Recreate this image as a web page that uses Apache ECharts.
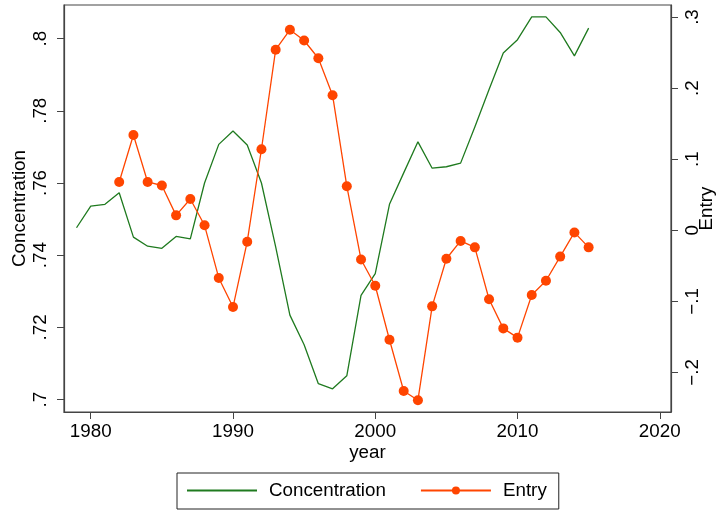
<!DOCTYPE html>
<html><head><meta charset="utf-8">
<script src="https://cdn.jsdelivr.net/npm/echarts@6/dist/echarts.min.js"></script>
<style>html,body{margin:0;padding:0;background:#fff}#c{width:719px;height:510px}</style>
</head><body><div id="c"></div>
<script>
var concYears = [1979,1980,1981,1982,1983,1984,1985,1986,1987,1988,1989,1990,1991,1992,1993,1994,1995,1996,1997,1998,1999,2000,2001,2002,2003,2004,2005,2006,2007,2008,2009,2010,2011,2012,2013,2014,2015];
var concentration = [0.7476,0.7536,0.7541,0.7573,0.7450,0.7425,0.7419,0.7452,0.7445,0.7600,0.7707,0.7744,0.7705,0.7600,0.7423,0.7234,0.7152,0.7044,0.7030,0.7066,0.7289,0.7349,0.7541,0.7628,0.7714,0.7641,0.7645,0.7655,0.7755,0.7859,0.7960,0.7997,0.8060,0.8060,0.8017,0.7952,0.8029];
var entryYears = [1982,1983,1984,1985,1986,1987,1988,1989,1990,1991,1992,1993,1994,1995,1996,1997,1998,1999,2000,2001,2002,2003,2004,2005,2006,2007,2008,2009,2010,2011,2012,2013,2014,2015];
var entry = [0.068,0.134,0.068,0.063,0.021,0.044,0.007,-0.067,-0.108,-0.016,0.114,0.254,0.282,0.267,0.242,0.190,0.062,-0.041,-0.078,-0.154,-0.226,-0.239,-0.107,-0.040,-0.015,-0.024,-0.097,-0.138,-0.151,-0.091,-0.071,-0.037,-0.003,-0.024];
var xTicks = [1980,1990,2000,2010,2020];
var leftTicks = [0.7,0.72,0.74,0.76,0.78,0.8];
var leftTickLabels = ['.7','.72','.74','.76','.78','.8'];
var rightTicks = [-0.2,-0.1,0,0.1,0.2,0.3];
var rightTickLabels = ['\u2212.2','\u2212.1','0','.1','.2','.3'];

function pairs(xs, ys){ return xs.map(function(x,i){ return [x, ys[i]]; }); }
function labelFor(ticks, labels){ return function(v){ for (var i=0;i<ticks.length;i++){ if (Math.abs(ticks[i]-v)<1e-6) return labels[i]; } return ''; }; }

var FONT = 'Liberation Sans';
var FS = 18.8;
var lineAxis = {show:true, onZero:false, lineStyle:{color:'#444', width:1.2}};
var chart = echarts.init(document.getElementById('c'), null, {renderer:'canvas'});
chart.setOption({
  animation:false,
  backgroundColor:'#fff',
  textStyle:{fontFamily:FONT},
  grid:{left:64, right:48, top:5, bottom:98, show:true, borderColor:'#444', borderWidth:1.2, containLabel:false, outerBoundsMode:'none'},
  legend:{
    left:177, top:473, orient:'horizontal',
    borderColor:'#222', borderWidth:1, padding:[8,12,9,9],
    itemWidth:70, itemHeight:10, itemGap:34,
    textStyle:{fontFamily:FONT, fontSize:FS, color:'#000', padding:[0,0,0,7]},
    data:[{name:'Concentration', itemStyle:{opacity:0}}, 'Entry']
  },
  xAxis:{
    type:'value', min:1978.12, max:2020.79,
    name:'year', nameLocation:'middle', nameGap:31, nameMoveOverlap:false,
    nameTextStyle:{fontFamily:FONT, fontSize:FS, color:'#000'},
    axisLine:lineAxis, splitLine:{show:false},
    axisTick:{show:true, inside:false, length:7, lineStyle:{color:'#444'}, customValues:xTicks},
    axisLabel:{fontFamily:FONT, fontSize:FS, color:'#000', margin:10, customValues:xTicks, formatter:function(v){return String(v);}}
  },
  yAxis:[
    {
      type:'value', position:'left', min:0.69657, max:0.8093,
      name:'Concentration', nameLocation:'middle', nameRotate:90, nameGap:35, nameMoveOverlap:false,
      nameTextStyle:{fontFamily:FONT, fontSize:FS, color:'#000'},
      axisLine:lineAxis, splitLine:{show:false},
      axisTick:{show:true, inside:false, length:7, lineStyle:{color:'#444'}, customValues:leftTicks},
      axisLabel:{fontFamily:FONT, fontSize:FS, color:'#000', rotate:90, margin:14, customValues:leftTicks, formatter:labelFor(leftTicks,leftTickLabels)}
    },
    {
      type:'value', position:'right', min:-0.2556, max:0.3169,
      name:'Entry', nameLocation:'middle', nameRotate:90, nameGap:26, nameMoveOverlap:false,
      nameTextStyle:{fontFamily:FONT, fontSize:FS, color:'#000'},
      axisLine:lineAxis, splitLine:{show:false},
      axisTick:{show:true, inside:false, length:7, lineStyle:{color:'#444'}, customValues:rightTicks},
      axisLabel:{fontFamily:FONT, fontSize:FS, color:'#000', rotate:90, margin:12, customValues:rightTicks, formatter:labelFor(rightTicks,rightTickLabels)}
    }
  ],
  series:[
    {name:'Concentration', type:'line', yAxisIndex:0, data:pairs(concYears, concentration),
     showSymbol:false, symbol:'none', lineStyle:{color:'#1f7a1f', width:1.3}, itemStyle:{color:'#1f7a1f'}},
    {name:'Entry', type:'line', yAxisIndex:1, data:pairs(entryYears, entry),
     symbol:'circle', symbolSize:10, showSymbol:true,
     lineStyle:{color:'#ff4500', width:1.3}, itemStyle:{color:'#ff4500', borderWidth:0}}
  ]
});
</script></body></html>
